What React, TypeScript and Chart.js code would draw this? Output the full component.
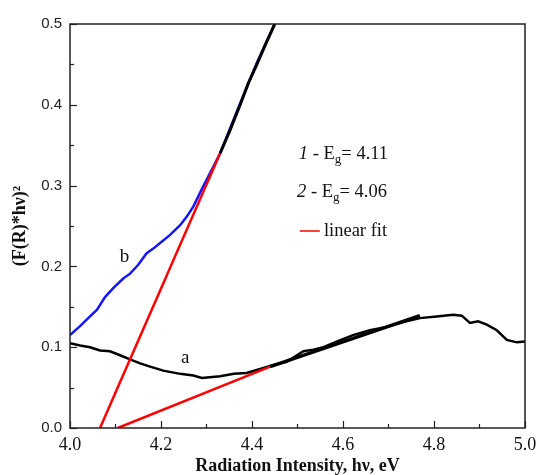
import React, { useEffect, useRef } from 'react';
import { Chart, registerables } from 'chart.js';
Chart.register(...registerables);

// Curve a (black)
const aX = [4.000, 4.022, 4.044, 4.066, 4.088, 4.110, 4.132, 4.154, 4.176, 4.205, 4.242, 4.271, 4.290, 4.330, 4.360, 4.388, 4.418, 4.447, 4.476, 4.513, 4.535, 4.557, 4.586, 4.622, 4.659, 4.696, 4.733, 4.769, 4.806, 4.842, 4.861, 4.879, 4.897, 4.916, 4.938, 4.960, 4.982, 5.000];
const aY = [0.105, 0.102, 0.100, 0.096, 0.095, 0.090, 0.085, 0.080, 0.076, 0.071, 0.067, 0.065, 0.062, 0.064, 0.067, 0.068, 0.073, 0.078, 0.082, 0.095, 0.097, 0.100, 0.107, 0.115, 0.121, 0.125, 0.131, 0.136, 0.138, 0.140, 0.139, 0.130, 0.132, 0.128, 0.121, 0.109, 0.106, 0.107];

// Curve b (blue)
const bX = [4.000, 4.022, 4.040, 4.059, 4.077, 4.095, 4.117, 4.132, 4.150, 4.168, 4.183, 4.198, 4.220, 4.242, 4.256, 4.271, 4.290, 4.310, 4.330, 4.352, 4.374, 4.392, 4.410, 4.430, 4.450];
const bY = [0.115, 0.126, 0.136, 0.146, 0.162, 0.173, 0.185, 0.191, 0.202, 0.216, 0.222, 0.229, 0.239, 0.251, 0.261, 0.274, 0.296, 0.318, 0.340, 0.371, 0.402, 0.426, 0.451, 0.476, 0.500];

// Linear fits (red) and their black continuation over the data
const fit1X = [4.066, 4.330];
const fit1Y = [0.0, 0.340];
const fit1OverX = [4.330, 4.352, 4.374, 4.392, 4.410, 4.430, 4.450];
const fit1OverY = [0.340, 0.369, 0.400, 0.427, 0.449, 0.475, 0.500];
const fit2X = [4.105, 4.440];
const fit2Y = [0.0, 0.076];
const fit2OverX = [4.440, 4.769];
const fit2OverY = [0.076, 0.139];

// Axes
const xMin = 4.0, xMax = 5.0, xStep = 0.2;
const yMin = 0.0, yMax = 0.5, yStep = 0.1;

const pts = (xs: number[], ys: number[]) => xs.map((x, i) => ({ x, y: ys[i] }));

const SERIF = "'Liberation Serif', 'Times New Roman', serif";
const SANS = "'Liberation Sans', Arial, sans-serif";

const decor = {
  id: 'decor',
  afterDraw(chart: any) {
    const { ctx, chartArea: ca, scales } = chart;
    const x = scales.x, y = scales.y;
    ctx.save();
    ctx.strokeStyle = '#222';
    ctx.lineWidth = 1.5;
    ctx.strokeRect(ca.left, ca.top, ca.right - ca.left, ca.bottom - ca.top);
    ctx.lineWidth = 1.2;
    // x ticks (inward)
    for (let v = xMin; v <= xMax + 1e-9; v += xStep / 2) {
      const major = Math.abs(Math.round(v / xStep) * xStep - v) < 1e-6;
      const px = Math.round(x.getPixelForValue(v)) + 0.5;
      ctx.beginPath();
      ctx.moveTo(px, ca.bottom);
      ctx.lineTo(px, ca.bottom - (major ? 7 : 4));
      ctx.stroke();
    }
    for (let v = yMin; v <= yMax + 1e-9; v += yStep / 2) {
      const major = Math.abs(Math.round(v / yStep) * yStep - v) < 1e-6;
      const py = Math.round(y.getPixelForValue(v)) + 0.5;
      ctx.beginPath();
      ctx.moveTo(ca.left, py);
      ctx.lineTo(ca.left + (major ? 7 : 4), py);
      ctx.stroke();
    }
    ctx.fillStyle = '#111';
    ctx.textBaseline = 'alphabetic';
    ctx.textAlign = 'center';
    ctx.font = `19px ${SERIF}`;
    ctx.fillText('b', x.getPixelForValue(4.12), y.getPixelForValue(0.205));
    ctx.fillText('a', x.getPixelForValue(4.253), y.getPixelForValue(0.080));

    // annotation block
    ctx.textAlign = 'left';
    const drawEg = (num: string, val: string, xv: number, yv: number) => {
      let px = x.getPixelForValue(xv);
      const py = y.getPixelForValue(yv);
      ctx.font = `italic 18.5px ${SERIF}`;
      ctx.fillText(num, px, py);
      px += ctx.measureText(num).width;
      ctx.font = `18.5px ${SERIF}`;
      const s1 = ' - E';
      ctx.fillText(s1, px, py);
      px += ctx.measureText(s1).width;
      ctx.font = `13px ${SERIF}`;
      ctx.fillText('g', px, py + 4);
      px += ctx.measureText('g').width;
      ctx.font = `18.5px ${SERIF}`;
      ctx.fillText('= ' + val, px, py);
    };
    drawEg('1', '4.11', 4.503, 0.333);
    drawEg('2', '4.06', 4.499, 0.286);
    ctx.strokeStyle = '#ff0000';
    ctx.lineWidth = 1.5;
    ctx.beginPath();
    ctx.moveTo(x.getPixelForValue(4.505), y.getPixelForValue(0.2438));
    ctx.lineTo(x.getPixelForValue(4.549), y.getPixelForValue(0.2438));
    ctx.stroke();
    ctx.font = `18.5px ${SERIF}`;
    ctx.fillText('linear fit', x.getPixelForValue(4.558), y.getPixelForValue(0.2376));
    ctx.restore();
  },
};

export default function App() {
  const ref = useRef<HTMLCanvasElement>(null);
  useEffect(() => {
    const line = (data: any, color: string, width: number) => ({
      data,
      borderColor: color,
      backgroundColor: color,
      borderWidth: width,
      pointRadius: 0,
      tension: 0,
      fill: false,
    });
    const chart = new Chart(ref.current as HTMLCanvasElement, {
      type: 'line',
      data: {
        datasets: [
          line(pts(fit1OverX, fit1OverY), '#000000', 3),
          line(pts(fit2OverX, fit2OverY), '#000000', 3.5),
          line(pts(fit1X, fit1Y), '#ff0000', 2.5),
          line(pts(fit2X, fit2Y), '#ff0000', 2.5),
          line(pts(aX, aY), '#000000', 2.5),
          line(pts(bX, bY), '#1515f5', 2.5),
        ] as any,
      },
      options: {
        animation: false,
        responsive: false,
        events: [],
        layout: { padding: { left: 0, right: 14, top: 24, bottom: 0 } },
        plugins: { legend: { display: false }, tooltip: { enabled: false } },
        scales: {
          x: {
            type: 'linear',
            min: xMin,
            max: xMax,
            border: { display: false },
            grid: { display: false, drawTicks: false },
            ticks: {
              stepSize: xStep,
              padding: 6,
              color: '#111',
              maxRotation: 0,
              autoSkip: false,
              font: { family: SERIF, size: 18 },
              callback: (v: any) => Number(v).toFixed(1),
            },
            title: {
              display: true,
              text: 'Radiation Intensity, hν, eV',
              color: '#111',
              font: { family: SERIF, size: 18, weight: 'bold' },
              padding: { top: 0, bottom: -2 },
            },
            afterFit: (s: any) => { s.height = 47; s.paddingLeft = 0; s.paddingRight = 0; },
          },
          y: {
            type: 'linear',
            min: yMin,
            max: yMax,
            border: { display: false },
            grid: { display: false, drawTicks: false },
            ticks: {
              stepSize: yStep,
              padding: 8,
              color: '#222',
              font: { family: SANS, size: 15 },
              callback: (v: any) => Number(v).toFixed(1),
            },
            title: {
              display: true,
              text: '(F(R)*hν)²',
              color: '#111',
              font: { family: SERIF, size: 18, weight: 'bold' },
              padding: { top: 10, bottom: 0 },
            },
            afterFit: (s: any) => { s.width = 70; s.paddingTop = 0; s.paddingBottom = 0; },
          },
        },
      } as any,
      plugins: [decor],
    });
    return () => chart.destroy();
  }, []);
  return (
    <div style={{ position: 'fixed', left: 0, top: 0, width: 539, height: 475, background: '#fff' }}>
      <canvas ref={ref} width={539} height={475} style={{ display: 'block' }} />
    </div>
  );
}
